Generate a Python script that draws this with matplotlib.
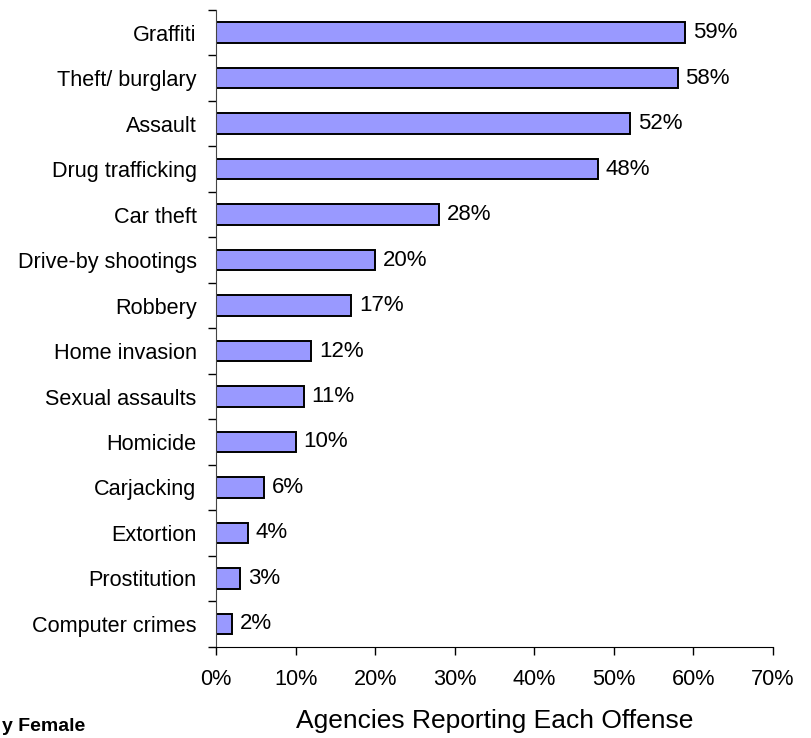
import matplotlib.pyplot as plt
import numpy as np
from matplotlib.ticker import FixedLocator, PercentFormatter

plt.rcParams['font.family'] = ['Liberation Sans', 'DejaVu Sans']

offenses = ['Graffiti', 'Theft/ burglary', 'Assault', 'Drug trafficking', 'Car theft',
            'Drive-by shootings', 'Robbery', 'Home invasion', 'Sexual assaults',
            'Homicide', 'Carjacking', 'Extortion', 'Prostitution', 'Computer crimes']
percent = [59, 58, 52, 48, 28, 20, 17, 12, 11, 10, 6, 4, 3, 2]


def plot_offenses():
    fig = plt.figure(figsize=(8.12, 7.38), dpi=100)
    ax = fig.add_axes([0.266, 0.1237, 0.686, 0.863])

    n = len(offenses)
    y = np.arange(n)[::-1]
    ax.barh(y, percent, height=0.45, color='#9999FF', edgecolor='black', linewidth=1.4)

    for yi, v in zip(y, percent):
        ax.text(v + 1.0, yi, f'{v}%', va='center', ha='left', fontsize=16)

    ax.set_xlim(0, 70)
    ax.set_ylim(-0.5, n - 0.5)
    ax.set_xticks(np.arange(0, 71, 10))
    ax.xaxis.set_major_formatter(PercentFormatter(decimals=0))
    ax.set_yticks(y)
    ax.set_yticklabels(offenses)
    ax.yaxis.set_minor_locator(FixedLocator(np.arange(-0.5, n, 1)))
    ax.tick_params(axis='y', which='major', length=0, pad=14, labelsize=15.6)
    ax.tick_params(axis='y', which='minor', length=6, width=1)
    ax.tick_params(axis='x', length=6, width=1, labelsize=15.6, pad=10)

    for side in ['top', 'right']:
        ax.spines[side].set_visible(False)
    ax.spines['left'].set_color('#444444')

    ax.set_xlabel('Agencies Reporting Each Offense', fontsize=19)
    ax.xaxis.set_label_coords(0.5, -0.098)
    fig.text(0.002, 0.004, 'y Female', fontsize=14, fontweight='bold', ha='left', va='bottom')

    fig.savefig('out.png', dpi=100)
    plt.close(fig)


if __name__ == "__main__":
    plot_offenses()
